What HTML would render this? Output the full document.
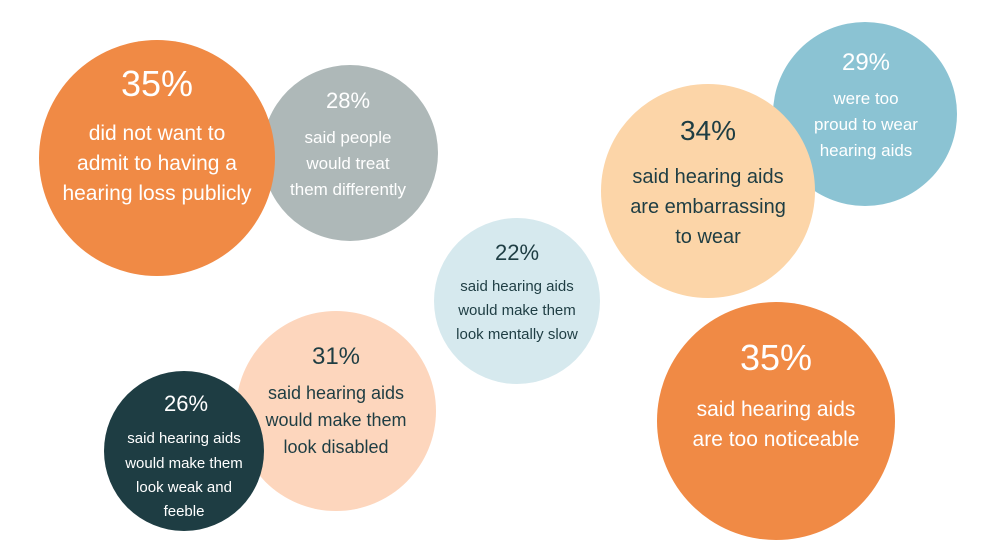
<!DOCTYPE html>
<html><head><meta charset="utf-8"><style>
html,body{margin:0;padding:0;background:#fff;}
svg{display:block;}
text{font-family:"Liberation Sans",sans-serif;text-anchor:middle;}
</style></head><body>
<svg width="992" height="558" viewBox="0 0 992 558" xmlns="http://www.w3.org/2000/svg">
<circle cx="350" cy="153" r="88" fill="#AEB8B8"/>
<circle cx="157" cy="158" r="118" fill="#F08A45"/>
<circle cx="517" cy="301" r="83" fill="#D6E9EE"/>
<circle cx="865" cy="114" r="92" fill="#8BC3D3"/>
<circle cx="708" cy="191" r="107" fill="#FCD5A8"/>
<circle cx="776" cy="421" r="119" fill="#F08A45"/>
<circle cx="336" cy="411" r="100" fill="#FDD6BD"/>
<circle cx="184" cy="451" r="80" fill="#1E3D43"/>

<g fill="#fff">
<text x="157" y="96" font-size="36">35%</text>
<text x="157" y="140" font-size="21">did not want to</text>
<text x="157" y="170" font-size="21">admit to having a</text>
<text x="157" y="200" font-size="21">hearing loss publicly</text>
</g>
<g fill="#fff">
<text x="348" y="108" font-size="22">28%</text>
<text x="348" y="143" font-size="17">said people</text>
<text x="348" y="169" font-size="17">would treat</text>
<text x="348" y="195" font-size="17">them differently</text>
</g>
<g fill="#1E3D43">
<text x="517" y="260" font-size="22">22%</text>
<text x="517" y="291" font-size="15">said hearing aids</text>
<text x="517" y="315" font-size="15">would make them</text>
<text x="517" y="339" font-size="15">look mentally slow</text>
</g>
<g fill="#fff">
<text x="866" y="70" font-size="24">29%</text>
<text x="866" y="104" font-size="17">were too</text>
<text x="866" y="130" font-size="17">proud to wear</text>
<text x="866" y="156" font-size="17">hearing aids</text>
</g>
<g fill="#1E3D43">
<text x="708" y="140" font-size="28">34%</text>
<text x="708" y="183" font-size="20">said hearing aids</text>
<text x="708" y="213" font-size="20">are embarrassing</text>
<text x="708" y="243" font-size="20">to wear</text>
</g>
<g fill="#fff">
<text x="776" y="370" font-size="36">35%</text>
<text x="776" y="416" font-size="21">said hearing aids</text>
<text x="776" y="446" font-size="21">are too noticeable</text>
</g>
<g fill="#1E3D43">
<text x="336" y="364" font-size="24">31%</text>
<text x="336" y="399" font-size="18">said hearing aids</text>
<text x="336" y="426" font-size="18">would make them</text>
<text x="336" y="453" font-size="18">look disabled</text>
</g>
<g fill="#fff">
<text x="186" y="411" font-size="22">26%</text>
<text x="184" y="443" font-size="15">said hearing aids</text>
<text x="184" y="468" font-size="15">would make them</text>
<text x="184" y="492" font-size="15">look weak and</text>
<text x="184" y="516" font-size="15">feeble</text>
</g>
</svg>
</body></html>
